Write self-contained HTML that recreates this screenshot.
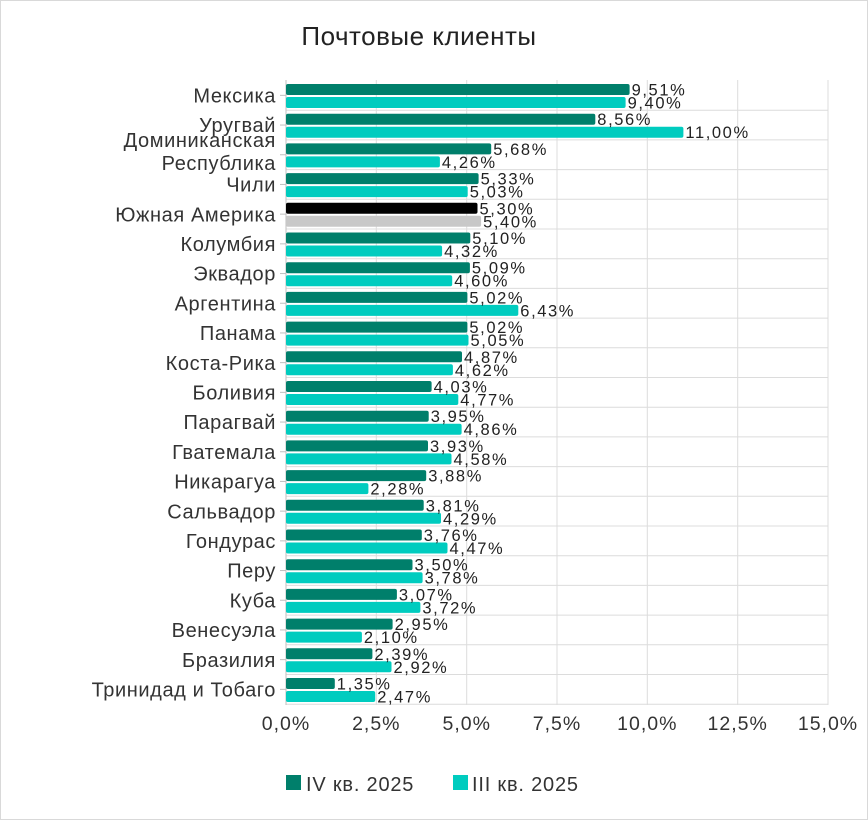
<!DOCTYPE html>
<html><head><meta charset="utf-8"><style>
body{margin:0;background:#fff}
svg{display:block;font-family:"Liberation Sans",sans-serif}
.c{font-size:20px;fill:#333;text-anchor:end;letter-spacing:0.6px}
.v{font-size:16.5px;fill:#222;letter-spacing:1.6px}
.t{font-size:19.5px;fill:#333;text-anchor:middle;letter-spacing:1px}
</style></head><body>
<svg width="868" height="820" viewBox="0 0 868 820">
<rect x="0.5" y="0.5" width="867" height="819" fill="#fff" stroke="#d9d9d9"/>
<text x="419" y="45" font-size="26" fill="#222" text-anchor="middle" letter-spacing="0.5">Почтовые клиенты</text>
<g stroke="#dcdcdc" stroke-width="1">
<line x1="376.3" y1="80" x2="376.3" y2="705"/><line x1="466.7" y1="80" x2="466.7" y2="705"/><line x1="557" y1="80" x2="557" y2="705"/><line x1="647.3" y1="80" x2="647.3" y2="705"/><line x1="737.7" y1="80" x2="737.7" y2="705"/><line x1="828" y1="80" x2="828" y2="705"/>
<line x1="286" y1="110.2" x2="828" y2="110.2"/><line x1="286" y1="139.9" x2="828" y2="139.9"/><line x1="286" y1="169.6" x2="828" y2="169.6"/><line x1="286" y1="199.3" x2="828" y2="199.3"/><line x1="286" y1="229" x2="828" y2="229"/><line x1="286" y1="258.7" x2="828" y2="258.7"/><line x1="286" y1="288.4" x2="828" y2="288.4"/><line x1="286" y1="318.1" x2="828" y2="318.1"/><line x1="286" y1="347.8" x2="828" y2="347.8"/><line x1="286" y1="377.5" x2="828" y2="377.5"/><line x1="286" y1="407.2" x2="828" y2="407.2"/><line x1="286" y1="436.9" x2="828" y2="436.9"/><line x1="286" y1="466.6" x2="828" y2="466.6"/><line x1="286" y1="496.3" x2="828" y2="496.3"/><line x1="286" y1="526" x2="828" y2="526"/><line x1="286" y1="555.7" x2="828" y2="555.7"/><line x1="286" y1="585.4" x2="828" y2="585.4"/><line x1="286" y1="615.1" x2="828" y2="615.1"/><line x1="286" y1="644.8" x2="828" y2="644.8"/><line x1="286" y1="674.5" x2="828" y2="674.5"/><line x1="286" y1="704.2" x2="828" y2="704.2"/>
</g>
<line x1="286" y1="80" x2="286" y2="705" stroke="#bfbfbf"/>
<g font-size="0">
<g transform="translate(0,80.5)"><line x1="280" y1="14.85" x2="286" y2="14.85" stroke="#bfbfbf"/><text class="c" x="276" y="22">Мексика</text><rect x="286" y="3.5" width="343.6" height="11" rx="2" fill="#007f6b"/><rect x="286" y="16.5" width="339.6" height="11" rx="2" fill="#00ccbf"/><text class="v" x="631.6" y="15">9,51%</text><text class="v" x="627.6" y="28">9,40%</text></g>
<g transform="translate(0,110.2)"><line x1="280" y1="14.85" x2="286" y2="14.85" stroke="#bfbfbf"/><text class="c" x="276" y="22">Уругвай</text><rect x="286" y="3.5" width="309.3" height="11" rx="2" fill="#007f6b"/><rect x="286" y="16.5" width="397.4" height="11" rx="2" fill="#00ccbf"/><text class="v" x="597.3" y="15">8,56%</text><text class="v" x="685.4" y="28">11,00%</text></g>
<g transform="translate(0,139.9)"><line x1="280" y1="14.85" x2="286" y2="14.85" stroke="#bfbfbf"/><text class="c" x="276" y="7">Доминиканская</text><text class="c" x="276" y="30">Республика</text><rect x="286" y="3.5" width="205.2" height="11" rx="2" fill="#007f6b"/><rect x="286" y="16.5" width="153.9" height="11" rx="2" fill="#00ccbf"/><text class="v" x="493.2" y="15">5,68%</text><text class="v" x="441.9" y="28">4,26%</text></g>
<g transform="translate(0,169.6)"><line x1="280" y1="14.85" x2="286" y2="14.85" stroke="#bfbfbf"/><text class="c" x="276" y="22">Чили</text><rect x="286" y="3.5" width="192.6" height="11" rx="2" fill="#007f6b"/><rect x="286" y="16.5" width="181.7" height="11" rx="2" fill="#00ccbf"/><text class="v" x="480.6" y="15">5,33%</text><text class="v" x="469.7" y="28">5,03%</text></g>
<g transform="translate(0,199.3)"><line x1="280" y1="14.85" x2="286" y2="14.85" stroke="#bfbfbf"/><text class="c" x="276" y="22">Южная Америка</text><rect x="286" y="3.5" width="191.5" height="11" rx="2" fill="#000"/><rect x="286" y="16.5" width="195.1" height="11" rx="2" fill="#c8c8c8"/><text class="v" x="479.5" y="15">5,30%</text><text class="v" x="483.1" y="28">5,40%</text></g>
<g transform="translate(0,229)"><line x1="280" y1="14.85" x2="286" y2="14.85" stroke="#bfbfbf"/><text class="c" x="276" y="22">Колумбия</text><rect x="286" y="3.5" width="184.3" height="11" rx="2" fill="#007f6b"/><rect x="286" y="16.5" width="156.1" height="11" rx="2" fill="#00ccbf"/><text class="v" x="472.3" y="15">5,10%</text><text class="v" x="444.1" y="28">4,32%</text></g>
<g transform="translate(0,258.7)"><line x1="280" y1="14.85" x2="286" y2="14.85" stroke="#bfbfbf"/><text class="c" x="276" y="22">Эквадор</text><rect x="286" y="3.5" width="183.9" height="11" rx="2" fill="#007f6b"/><rect x="286" y="16.5" width="166.2" height="11" rx="2" fill="#00ccbf"/><text class="v" x="471.9" y="15">5,09%</text><text class="v" x="454.2" y="28">4,60%</text></g>
<g transform="translate(0,288.4)"><line x1="280" y1="14.85" x2="286" y2="14.85" stroke="#bfbfbf"/><text class="c" x="276" y="22">Аргентина</text><rect x="286" y="3.5" width="181.4" height="11" rx="2" fill="#007f6b"/><rect x="286" y="16.5" width="232.3" height="11" rx="2" fill="#00ccbf"/><text class="v" x="469.4" y="15">5,02%</text><text class="v" x="520.3" y="28">6,43%</text></g>
<g transform="translate(0,318.1)"><line x1="280" y1="14.85" x2="286" y2="14.85" stroke="#bfbfbf"/><text class="c" x="276" y="22">Панама</text><rect x="286" y="3.5" width="181.4" height="11" rx="2" fill="#007f6b"/><rect x="286" y="16.5" width="182.5" height="11" rx="2" fill="#00ccbf"/><text class="v" x="469.4" y="15">5,02%</text><text class="v" x="470.5" y="28">5,05%</text></g>
<g transform="translate(0,347.8)"><line x1="280" y1="14.85" x2="286" y2="14.85" stroke="#bfbfbf"/><text class="c" x="276" y="22">Коста-Рика</text><rect x="286" y="3.5" width="176" height="11" rx="2" fill="#007f6b"/><rect x="286" y="16.5" width="166.9" height="11" rx="2" fill="#00ccbf"/><text class="v" x="464" y="15">4,87%</text><text class="v" x="454.9" y="28">4,62%</text></g>
<g transform="translate(0,377.5)"><line x1="280" y1="14.85" x2="286" y2="14.85" stroke="#bfbfbf"/><text class="c" x="276" y="22">Боливия</text><rect x="286" y="3.5" width="145.6" height="11" rx="2" fill="#007f6b"/><rect x="286" y="16.5" width="172.3" height="11" rx="2" fill="#00ccbf"/><text class="v" x="433.6" y="15">4,03%</text><text class="v" x="460.3" y="28">4,77%</text></g>
<g transform="translate(0,407.2)"><line x1="280" y1="14.85" x2="286" y2="14.85" stroke="#bfbfbf"/><text class="c" x="276" y="22">Парагвай</text><rect x="286" y="3.5" width="142.7" height="11" rx="2" fill="#007f6b"/><rect x="286" y="16.5" width="175.6" height="11" rx="2" fill="#00ccbf"/><text class="v" x="430.7" y="15">3,95%</text><text class="v" x="463.6" y="28">4,86%</text></g>
<g transform="translate(0,436.9)"><line x1="280" y1="14.85" x2="286" y2="14.85" stroke="#bfbfbf"/><text class="c" x="276" y="22">Гватемала</text><rect x="286" y="3.5" width="142" height="11" rx="2" fill="#007f6b"/><rect x="286" y="16.5" width="165.5" height="11" rx="2" fill="#00ccbf"/><text class="v" x="430" y="15">3,93%</text><text class="v" x="453.5" y="28">4,58%</text></g>
<g transform="translate(0,466.6)"><line x1="280" y1="14.85" x2="286" y2="14.85" stroke="#bfbfbf"/><text class="c" x="276" y="22">Никарагуа</text><rect x="286" y="3.5" width="140.2" height="11" rx="2" fill="#007f6b"/><rect x="286" y="16.5" width="82.4" height="11" rx="2" fill="#00ccbf"/><text class="v" x="428.2" y="15">3,88%</text><text class="v" x="370.4" y="28">2,28%</text></g>
<g transform="translate(0,496.3)"><line x1="280" y1="14.85" x2="286" y2="14.85" stroke="#bfbfbf"/><text class="c" x="276" y="22">Сальвадор</text><rect x="286" y="3.5" width="137.7" height="11" rx="2" fill="#007f6b"/><rect x="286" y="16.5" width="155" height="11" rx="2" fill="#00ccbf"/><text class="v" x="425.7" y="15">3,81%</text><text class="v" x="443" y="28">4,29%</text></g>
<g transform="translate(0,526)"><line x1="280" y1="14.85" x2="286" y2="14.85" stroke="#bfbfbf"/><text class="c" x="276" y="22">Гондурас</text><rect x="286" y="3.5" width="135.8" height="11" rx="2" fill="#007f6b"/><rect x="286" y="16.5" width="161.5" height="11" rx="2" fill="#00ccbf"/><text class="v" x="423.8" y="15">3,76%</text><text class="v" x="449.5" y="28">4,47%</text></g>
<g transform="translate(0,555.7)"><line x1="280" y1="14.85" x2="286" y2="14.85" stroke="#bfbfbf"/><text class="c" x="276" y="22">Перу</text><rect x="286" y="3.5" width="126.5" height="11" rx="2" fill="#007f6b"/><rect x="286" y="16.5" width="136.6" height="11" rx="2" fill="#00ccbf"/><text class="v" x="414.5" y="15">3,50%</text><text class="v" x="424.6" y="28">3,78%</text></g>
<g transform="translate(0,585.4)"><line x1="280" y1="14.85" x2="286" y2="14.85" stroke="#bfbfbf"/><text class="c" x="276" y="22">Куба</text><rect x="286" y="3.5" width="110.9" height="11" rx="2" fill="#007f6b"/><rect x="286" y="16.5" width="134.4" height="11" rx="2" fill="#00ccbf"/><text class="v" x="398.9" y="15">3,07%</text><text class="v" x="422.4" y="28">3,72%</text></g>
<g transform="translate(0,615.1)"><line x1="280" y1="14.85" x2="286" y2="14.85" stroke="#bfbfbf"/><text class="c" x="276" y="22">Венесуэла</text><rect x="286" y="3.5" width="106.6" height="11" rx="2" fill="#007f6b"/><rect x="286" y="16.5" width="75.9" height="11" rx="2" fill="#00ccbf"/><text class="v" x="394.6" y="15">2,95%</text><text class="v" x="363.9" y="28">2,10%</text></g>
<g transform="translate(0,644.8)"><line x1="280" y1="14.85" x2="286" y2="14.85" stroke="#bfbfbf"/><text class="c" x="276" y="22">Бразилия</text><rect x="286" y="3.5" width="86.4" height="11" rx="2" fill="#007f6b"/><rect x="286" y="16.5" width="105.5" height="11" rx="2" fill="#00ccbf"/><text class="v" x="374.4" y="15">2,39%</text><text class="v" x="393.5" y="28">2,92%</text></g>
<g transform="translate(0,674.5)"><line x1="280" y1="14.85" x2="286" y2="14.85" stroke="#bfbfbf"/><text class="c" x="276" y="22">Тринидад и Тобаго</text><rect x="286" y="3.5" width="48.8" height="11" rx="2" fill="#007f6b"/><rect x="286" y="16.5" width="89.2" height="11" rx="2" fill="#00ccbf"/><text class="v" x="336.8" y="15">1,35%</text><text class="v" x="377.2" y="28">2,47%</text></g>
</g>
<text class="t" x="286" y="730">0,0%</text><text class="t" x="376.3" y="730">2,5%</text><text class="t" x="466.7" y="730">5,0%</text><text class="t" x="557" y="730">7,5%</text><text class="t" x="647.3" y="730">10,0%</text><text class="t" x="737.7" y="730">12,5%</text><text class="t" x="828" y="730">15,0%</text>
<rect x="286" y="775" width="15" height="15" fill="#007f6b"/>
<text x="306" y="791" font-size="20" fill="#333" letter-spacing="0.8">IV кв. 2025</text>
<rect x="453" y="775" width="15" height="15" fill="#00ccbf"/>
<text x="472" y="791" font-size="20" fill="#333" letter-spacing="0.8">III кв. 2025</text>
</svg>
</body></html>
